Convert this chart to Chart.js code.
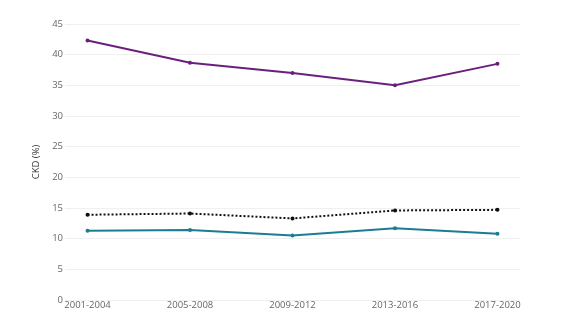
<!DOCTYPE html>
<html>
<head>
<meta charset="utf-8">
<script src="https://cdn.jsdelivr.net/npm/chart.js@4"></script>
<style>
  html, body { margin: 0; padding: 0; background: #fff; }
  #wrap { width: 573px; height: 329px; }
</style>
</head>
<body>
<div id="wrap"><canvas id="chart"></canvas></div>
<script>
const periods = ["2001-2004", "2005-2008", "2009-2012", "2013-2016", "2017-2020"];
const purpleSeries = [42.3, 38.7, 37.0, 35.0, 38.5];
const dottedSeries = [13.9, 14.1, 13.3, 14.6, 14.7];
const tealSeries = [11.3, 11.4, 10.5, 11.7, 10.8];
const yTicks = [0, 5, 10, 15, 20, 25, 30, 35, 40, 45];

const toPoints = (values) => values.map((v, i) => ({ x: i, y: v }));

const ctx = document.getElementById("chart");
const chart = new Chart(ctx, {
  type: "line",
  data: {
    datasets: [
      {
        data: toPoints(purpleSeries),
        borderColor: "#6b1f7c",
        backgroundColor: "#6b1f7c",
        borderWidth: 2,
        pointRadius: 2,
        pointBorderWidth: 0,
        pointHoverRadius: 2,
      },
      {
        data: toPoints(dottedSeries),
        borderColor: "#111",
        backgroundColor: "#111",
        borderWidth: 2,
        borderDash: [2, 2],
        pointRadius: 2,
        pointBorderWidth: 0,
        pointHoverRadius: 2,
      },
      {
        data: toPoints(tealSeries),
        borderColor: "#1b7d92",
        backgroundColor: "#1b7d92",
        borderWidth: 2,
        pointRadius: 2,
        pointBorderWidth: 0,
        pointHoverRadius: 2,
      },
    ],
  },
  options: {
    responsive: true,
    maintainAspectRatio: false,
    animation: false,
    layout: { padding: { top: 24, right: 53, left: 0, bottom: 0 } },
    plugins: {
      legend: { display: false },
      tooltip: { enabled: false },
    },
    scales: {
      x: {
        type: "linear",
        min: -0.22,
        max: 4.22,
        border: { display: false },
        grid: { display: false, drawTicks: false },
        afterBuildTicks: (axis) => {
          axis.ticks = periods.map((p, i) => ({ value: i }));
        },
        afterFit: (axis) => {
          axis.height = 29;
        },
        ticks: {
          padding: 0,
          maxRotation: 0,
          autoSkip: false,
          color: "#666",
          font: { family: "Open Sans", size: 9.5 },
          callback: (v) => periods[v],
        },
      },
      y: {
        min: 0,
        max: 45,
        border: { display: false },
        grid: { color: "#f0f0f0", lineWidth: 1, drawTicks: false },
        afterBuildTicks: (axis) => {
          axis.ticks = yTicks.map((v) => ({ value: v }));
        },
        afterFit: (axis) => {
          axis.width = 65;
        },
        ticks: {
          padding: 2,
          color: "#666",
          font: { family: "Open Sans", size: 9.5 },
        },
        title: {
          display: true,
          text: "CKD (%)",
          color: "#333",
          padding: { top: 31, bottom: 0 },
          font: { family: "Open Sans", size: 9.5 },
        },
      },
    },
  },
});
</script>
</body>
</html>
